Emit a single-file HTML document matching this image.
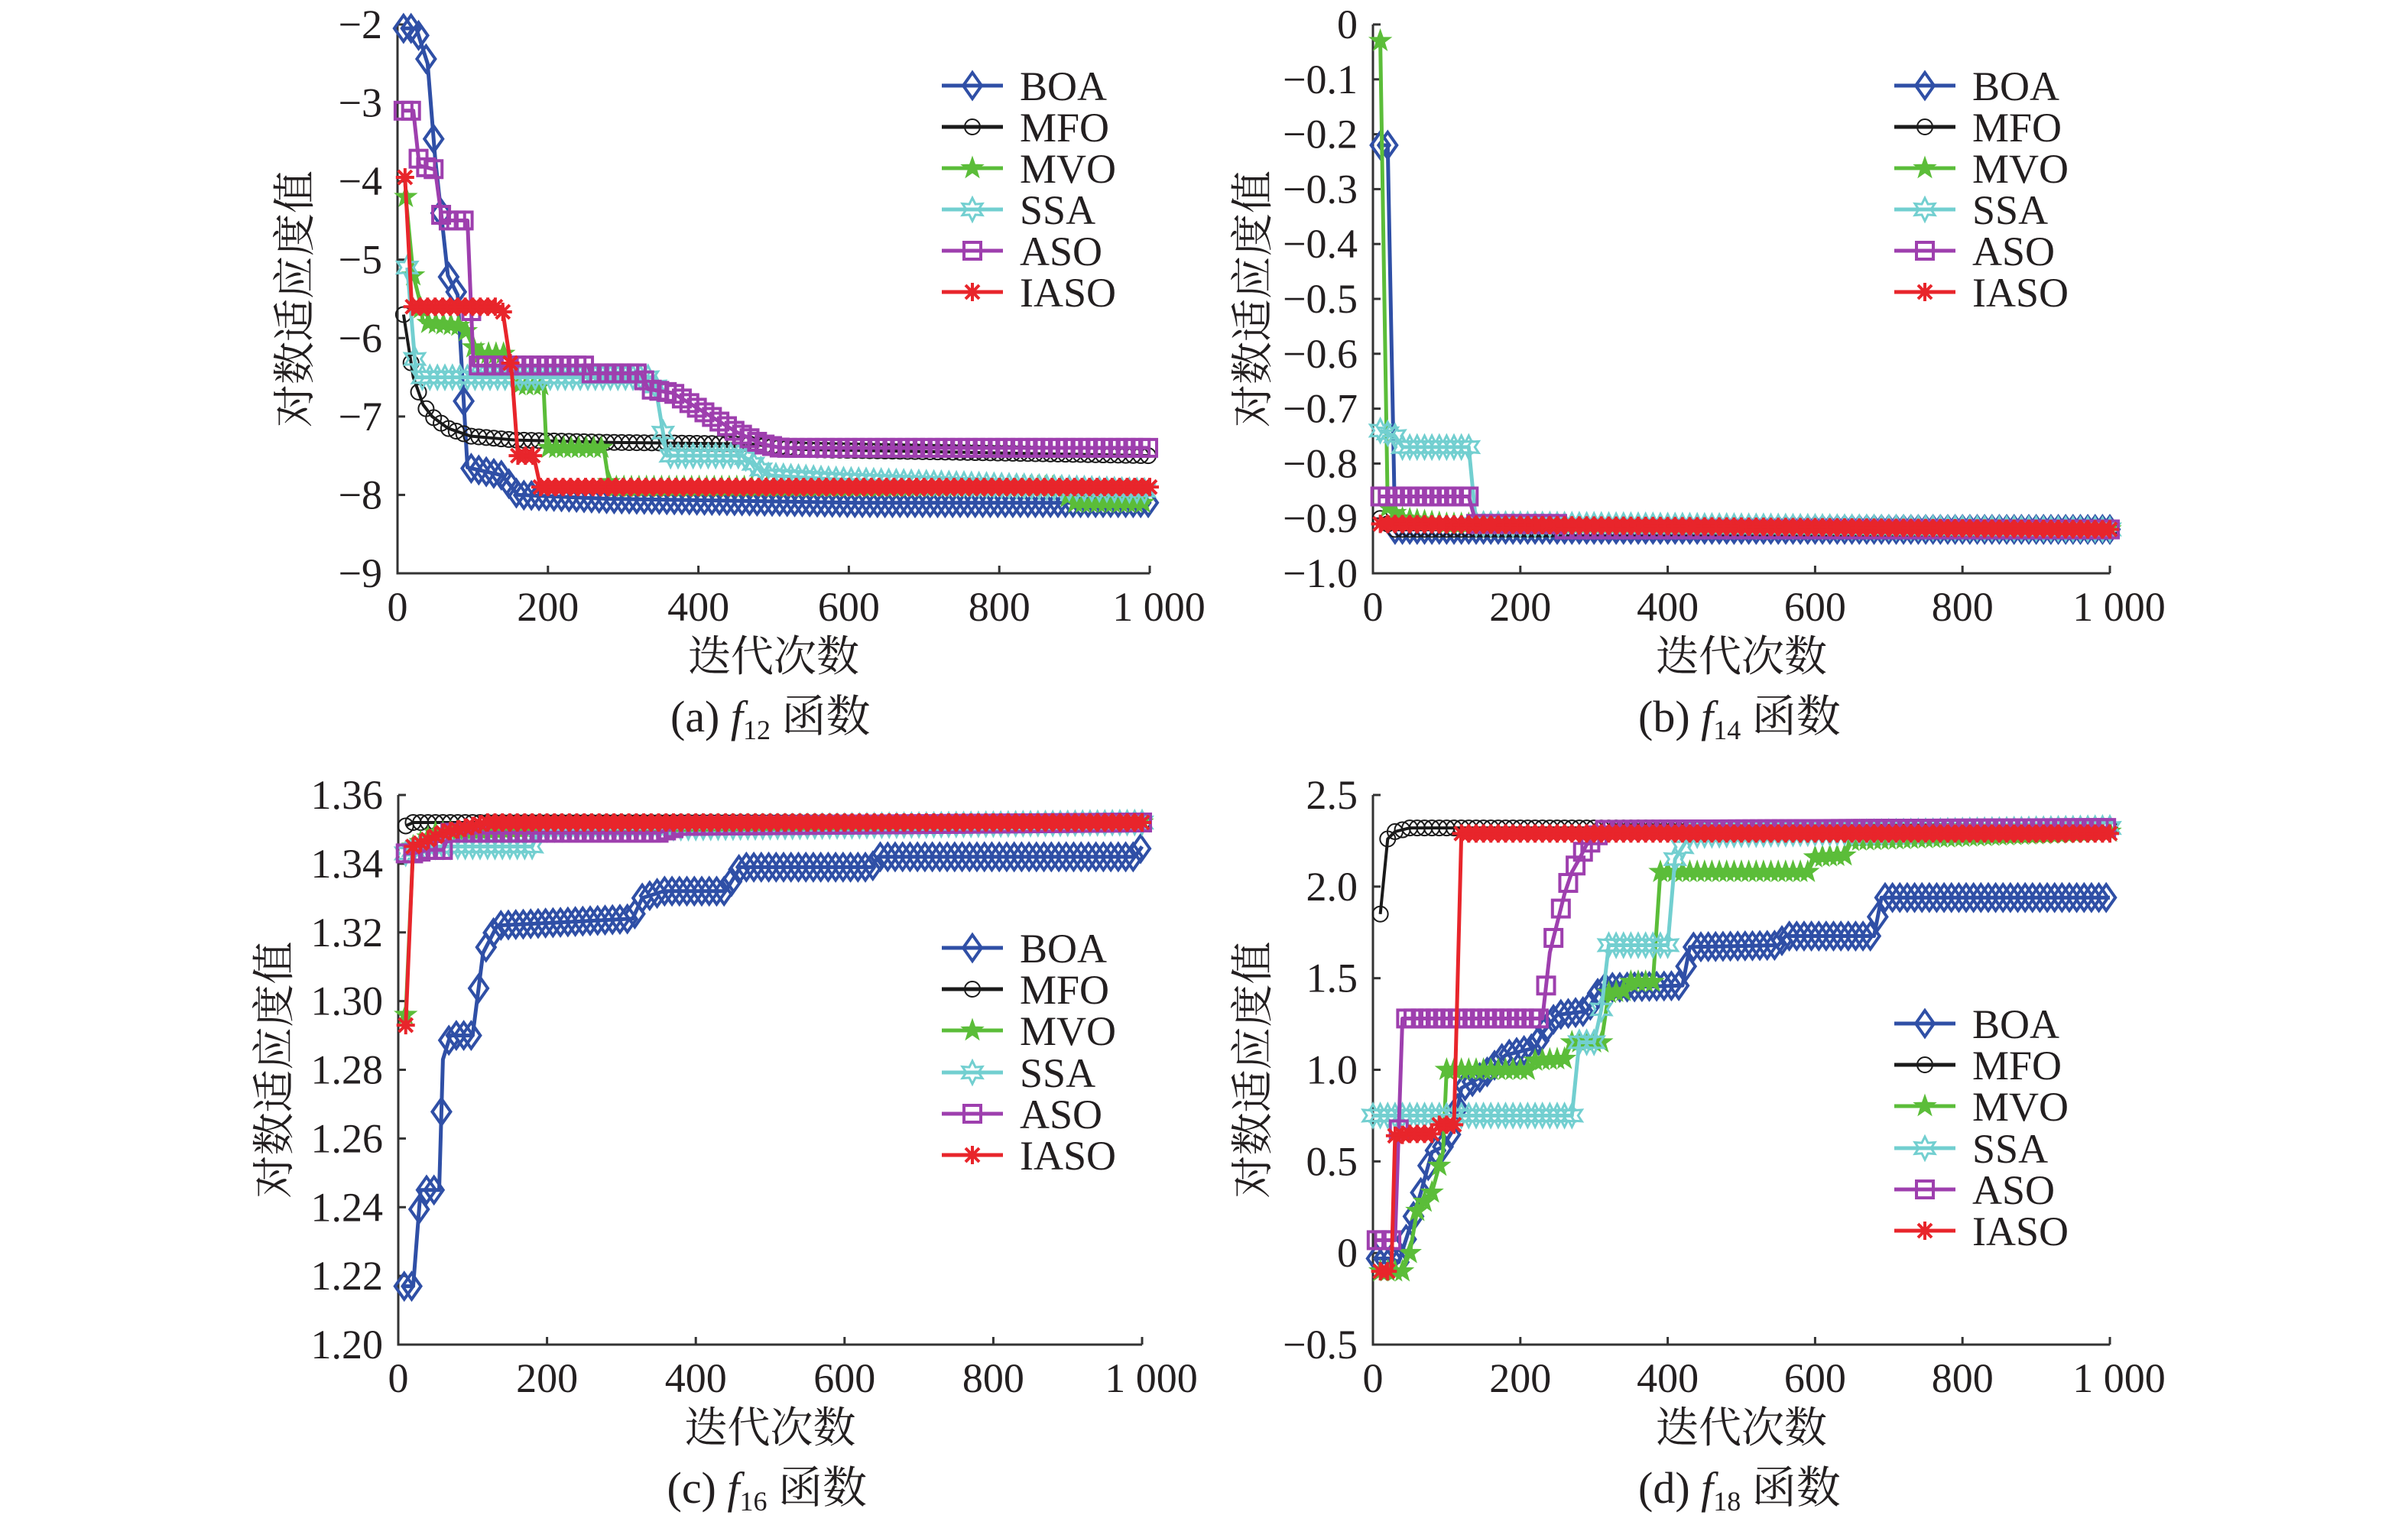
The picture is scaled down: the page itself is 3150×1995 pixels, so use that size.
<!DOCTYPE html>
<html><head><meta charset="utf-8"><style>
html,body{margin:0;padding:0;background:#fff;}
svg{display:block;}
text{font-family:"Liberation Serif","Noto Serif CJK SC",serif;fill:#231f20;}
.cjk{font-family:"Liberation Serif","Noto Serif CJK SC","Noto Sans CJK SC",serif;}
</style></head><body>
<svg id="fig" width="3150" height="1995" viewBox="0 0 3150 1995" xmlns="http://www.w3.org/2000/svg"></svg>
<script>
// ---- data (iteration breakpoints / values) ----
const seriesNames = ["BOA","MFO","MVO","SSA","ASO","IASO"];
// panel a (f12)
const aBOAx=[8,25,40,50,67,80,93,139,160,282,611,1000];
const aBOAy=[-2.05,-2.05,-2.5,-3.7,-5.2,-5.45,-7.65,-7.75,-8.0,-8.05,-8.1,-8.1];
const aMFOx=[8,21,34,46,67,97,156,282,468,535,1000];
const aMFOy=[-5.7,-6.5,-6.85,-7.0,-7.15,-7.25,-7.3,-7.33,-7.35,-7.42,-7.5];
const aMVOx=[11,21,29,34,88,105,147,156,194,198,274,282,880,897,1000];
const aMVOy=[-4.2,-5.2,-5.5,-5.8,-5.85,-6.2,-6.2,-6.6,-6.6,-7.4,-7.4,-7.9,-7.9,-8.1,-8.1];
const aSSAx=[13,25,341,358,459,493,577,1000];
const aSSAy=[-5.1,-6.5,-6.5,-7.5,-7.5,-7.75,-7.8,-7.95];
const aASOx=[8,21,29,50,59,93,101,253,257,324,333,366,417,451,484,510,1000];
const aASOy=[-3.1,-3.1,-3.8,-3.85,-4.5,-4.5,-6.35,-6.35,-6.45,-6.45,-6.65,-6.7,-7.0,-7.2,-7.35,-7.4,-7.4];
const aIASOx=[10,19,139,152,160,181,190,1000];
const aIASOy=[-3.95,-5.6,-5.6,-6.45,-7.5,-7.5,-7.9,-7.9];
// panel b (f14)
const bBOAx=[10,20,30,1000];           const bBOAy=[-0.22,-0.22,-0.92,-0.92];
const bMFOx=[10,30,1000];              const bMFOy=[-0.9,-0.92,-0.92];
const bMVOx=[10,20,40,100,1000];       const bMVOy=[-0.03,-0.88,-0.9,-0.91,-0.92];
const bSSAx=[10,30,40,130,140,1000];   const bSSAy=[-0.74,-0.75,-0.77,-0.77,-0.91,-0.92];
const bASOx=[10,130,140,250,260,1000]; const bASOy=[-0.86,-0.86,-0.91,-0.91,-0.92,-0.92];
const bIASOx=[10,1000];                const bIASOy=[-0.91,-0.92];
// panel c (f16)
const cBOAx=[8,20,30,55,60,70,100,114,133,315,328,357,440,460,637,645,990,1000];
const cBOAy=[1.217,1.217,1.245,1.245,1.283,1.29,1.29,1.314,1.322,1.324,1.330,1.332,1.332,1.339,1.339,1.342,1.342,1.345];
const cMFOx=[10,20,1000];              const cMFOy=[1.351,1.352,1.352];
const cMVOx=[10,20,50,150,300,1000];   const cMVOy=[1.296,1.345,1.349,1.350,1.351,1.352];
const cSSAx=[10,30,180,190,1000];      const cSSAy=[1.343,1.345,1.345,1.350,1.352];
const cASOx=[10,20,40,60,70,350,380,1000]; const cASOy=[1.343,1.343,1.344,1.344,1.349,1.349,1.351,1.352];
const cIASOx=[10,20,40,60,100,120,1000]; const cIASOy=[1.293,1.345,1.347,1.349,1.351,1.352,1.352];
// panel d (f18)
const dBOAx=[5,25,35,55,65,80,95,110,120,150,180,220,230,250,290,310,330,420,430,550,560,680,690,1000];
const dBOAy=[-0.03,-0.03,-0.05,0.2,0.33,0.55,0.58,0.68,0.9,0.97,1.08,1.12,1.2,1.3,1.32,1.45,1.45,1.46,1.67,1.68,1.73,1.73,1.94,1.94];
const dMFOx=[10,20,30,50,1000];        const dMFOy=[1.85,2.26,2.3,2.32,2.32];
const dMVOx=[10,40,50,60,80,95,100,210,220,260,270,310,320,340,350,380,390,590,600,640,650,1000];
const dMVOy=[-0.1,-0.1,0.0,0.23,0.33,0.55,1.0,1.0,1.05,1.06,1.15,1.15,1.42,1.43,1.48,1.48,2.08,2.08,2.16,2.17,2.25,2.3];
const dSSAx=[0,270,280,300,310,320,400,410,430,1000]; const dSSAy=[0.75,0.75,1.15,1.15,1.33,1.68,1.68,2.15,2.28,2.32];
const dASOx=[5,30,40,230,240,260,270,280,290,300,310,1000]; const dASOy=[0.07,0.07,1.28,1.28,1.64,1.96,2.08,2.15,2.23,2.25,2.31,2.32];
const dIASOx=[10,25,30,50,80,90,110,120,1000]; const dIASOy=[-0.1,-0.1,0.64,0.65,0.65,0.7,0.7,2.29,2.29];

const xTicks=[0,200,400,600,800,1000];
const xTickLabels=["0","200","400","600","800","1 000"];
const aYTicks=[-2,-3,-4,-5,-6,-7,-8,-9];
const aYLabels=["−2","−3","−4","−5","−6","−7","−8","−9"];
const bYTicks=[0,-0.1,-0.2,-0.3,-0.4,-0.5,-0.6,-0.7,-0.8,-0.9,-1.0];
const bYLabels=["0","−0.1","−0.2","−0.3","−0.4","−0.5","−0.6","−0.7","−0.8","−0.9","−1.0"];
const cYTicks=[1.36,1.34,1.32,1.30,1.28,1.26,1.24,1.22,1.20];
const cYLabels=["1.36","1.34","1.32","1.30","1.28","1.26","1.24","1.22","1.20"];
const dYTicks=[2.5,2.0,1.5,1.0,0.5,0,-0.5];
const dYLabels=["2.5","2.0","1.5","1.0","0.5","0","−0.5"];

const colors={BOA:"#2f4fa6",MFO:"#1a1a1a",MVO:"#5bbd39",SSA:"#72cfd0",ASO:"#9e3fae",IASO:"#e8252b"};
const NS="http://www.w3.org/2000/svg";
const svg=document.getElementById("fig");
function mk(tag,attrs,parent){const e=document.createElementNS(NS,tag);for(const k in attrs)e.setAttribute(k,attrs[k]);(parent||svg).appendChild(e);return e;}

function marker(g,name,x,y){
  const c=colors[name];let e;
  if(name==="BOA"){e=mk("path",{d:`M${x} ${y-17}L${x+12} ${y}L${x} ${y+17}L${x-12} ${y}Z`,fill:"none",stroke:c,"stroke-width":4},g);}
  else if(name==="MFO"){e=mk("circle",{cx:x,cy:y,r:10,fill:"none",stroke:c,"stroke-width":2},g);}
  else if(name==="MVO"){let p="";for(let i=0;i<10;i++){const r=i%2?6:15,a=-Math.PI/2+i*Math.PI/5;p+=(i?"L":"M")+(x+r*Math.cos(a)).toFixed(1)+" "+(y+r*Math.sin(a)).toFixed(1);}e=mk("path",{d:p+"Z",fill:c,stroke:c,"stroke-width":1},g);}
  else if(name==="SSA"){let p="";for(let i=0;i<12;i++){const r=i%2?8:15,a=-Math.PI/2+i*Math.PI/6;p+=(i?"L":"M")+(x+r*Math.cos(a)).toFixed(1)+" "+(y+r*Math.sin(a)).toFixed(1);}e=mk("path",{d:p+"Z",fill:"none",stroke:c,"stroke-width":3},g);}
  else if(name==="ASO"){e=mk("rect",{x:x-11,y:y-11,width:22,height:22,fill:"none",stroke:c,"stroke-width":4},g);}
  else {e=mk("path",{d:`M${x-12} ${y}H${x+12}M${x} ${y-12}V${y+12}M${x-9} ${y-9}L${x+9} ${y+9}M${x-9} ${y+9}L${x+9} ${y-9}`,stroke:c,"stroke-width":4},g);}
  
  
}
function interp(xs,ys,t){if(t<=xs[0])return ys[0];for(let i=1;i<xs.length;i++){if(t<=xs[i]){const f=(t-xs[i-1])/((xs[i]-xs[i-1])||1);return ys[i-1]+f*(ys[i]-ys[i-1]);}}return ys[ys.length-1];}

function panel(P){
  const g=mk("g",{});
  
  
  const sx=v=>P.x0+(v/1000)*(P.x1-P.x0);
  const sy=v=>P.yTop+(P.ymax-v)/(P.ymax-P.ymin)*(P.yBot-P.yTop);
  const ax=mk("path",{d:`M${P.x0} ${P.yTop}V${P.yBot}H${P.x1}`,fill:"none",stroke:"#333","stroke-width":3},g);
  
  xTicks.forEach((t,i)=>{
    mk("line",{x1:sx(t),x2:sx(t),y1:P.yBot,y2:P.yBot-10,stroke:"#333","stroke-width":3},g);
    const tx=mk("text",{x:sx(t)+(i===5?12:0),y:P.yBot+62,"font-size":54,"text-anchor":"middle"},g);tx.textContent=xTickLabels[i];
    
  });
  P.yt.forEach((t,i)=>{
    mk("line",{x1:P.x0,x2:P.x0+10,y1:sy(t),y2:sy(t),stroke:"#333","stroke-width":3},g);
    const tx=mk("text",{x:P.x0-20,y:sy(t)+18,"font-size":54,"text-anchor":"end"},g);tx.textContent=P.yl[i];
    
  });
  seriesNames.forEach(n=>{
    const xs=P.d[n][0],ys=P.d[n][1];const sg=mk("g",{},g);
    
    const pts=xs.map((x,i)=>sx(x).toFixed(1)+","+sy(ys[i]).toFixed(1)).join(" ");
    mk("polyline",{points:pts,fill:"none",stroke:colors[n],"stroke-width":n==="MFO"?4:5,"stroke-linejoin":"round"},sg);
    for(let t=Math.max(xs[0],0);t<=1000;t+=10){ if(t<xs[0])continue; marker(sg,n,sx(t),sy(interp(xs,ys,t))); }
  });
  P.leg.rows.forEach((ly,i)=>{
    const n=seriesNames[i];const lg=mk("g",{},g);
    
    mk("line",{x1:P.leg.x,x2:P.leg.x+80,y1:ly,y2:ly,stroke:colors[n],"stroke-width":5},lg);
    marker(lg,n,P.leg.x+40,ly);
    const t=mk("text",{x:P.leg.x+102,y:ly+19,"font-size":54},lg);t.textContent=n;
  });
  const cx=(P.x0+P.x1)/2;
  const yl=mk("text",{x:0,y:0,"font-size":56,"text-anchor":"middle",class:"cjk",transform:`translate(${P.ylx},${(P.yTop+P.yBot)/2}) rotate(-90)`},g);
  yl.textContent="对数适应度值";
  const xl=mk("text",{x:cx,y:P.yBot+128,"font-size":56,"text-anchor":"middle",class:"cjk"},g);
  xl.textContent="迭代次数";
  const cap=mk("text",{x:cx-135,y:P.yBot+207,"font-size":58,class:"cjk"},g);
  
  const t1=mk("tspan",{},cap);t1.textContent="("+P.id+") ";
  const t2=mk("tspan",{"font-style":"italic"},cap);t2.textContent="f";
  const t3=mk("tspan",{"font-size":36,dy:10},cap);t3.textContent=P.fn;
  const t4=mk("tspan",{dy:-10},cap);t4.textContent=" 函数";
}
const legA=[112,166,220,274,328,382], legC=[1240,1294,1348,1403,1457,1511], legD=[1339,1393,1447,1502,1556,1610];
panel({id:"a",fn:"12",x0:520,x1:1504,yTop:32,yBot:750,ymax:-2,ymin:-9,yt:aYTicks,yl:aYLabels,ylx:405,leg:{x:1232,rows:legA},
 d:{BOA:[aBOAx,aBOAy],MFO:[aMFOx,aMFOy],MVO:[aMVOx,aMVOy],SSA:[aSSAx,aSSAy],ASO:[aASOx,aASOy],IASO:[aIASOx,aIASOy]}});
panel({id:"b",fn:"14",x0:1796,x1:2760,yTop:32,yBot:750,ymax:0,ymin:-1,yt:bYTicks,yl:bYLabels,ylx:1658,leg:{x:2478,rows:legA},
 d:{BOA:[bBOAx,bBOAy],MFO:[bMFOx,bMFOy],MVO:[bMVOx,bMVOy],SSA:[bSSAx,bSSAy],ASO:[bASOx,bASOy],IASO:[bIASOx,bIASOy]}});
panel({id:"c",fn:"16",x0:521,x1:1494,yTop:1040,yBot:1759,ymax:1.36,ymin:1.20,yt:cYTicks,yl:cYLabels,ylx:378,leg:{x:1232,rows:legC},
 d:{BOA:[cBOAx,cBOAy],MFO:[cMFOx,cMFOy],MVO:[cMVOx,cMVOy],SSA:[cSSAx,cSSAy],ASO:[cASOx,cASOy],IASO:[cIASOx,cIASOy]}});
panel({id:"d",fn:"18",x0:1796,x1:2760,yTop:1040,yBot:1759,ymax:2.5,ymin:-0.5,yt:dYTicks,yl:dYLabels,ylx:1658,leg:{x:2478,rows:legD},
 d:{BOA:[dBOAx,dBOAy],MFO:[dMFOx,dMFOy],MVO:[dMVOx,dMVOy],SSA:[dSSAx,dSSAy],ASO:[dASOx,dASOy],IASO:[dIASOx,dIASOy]}});
</script>
</body></html>
